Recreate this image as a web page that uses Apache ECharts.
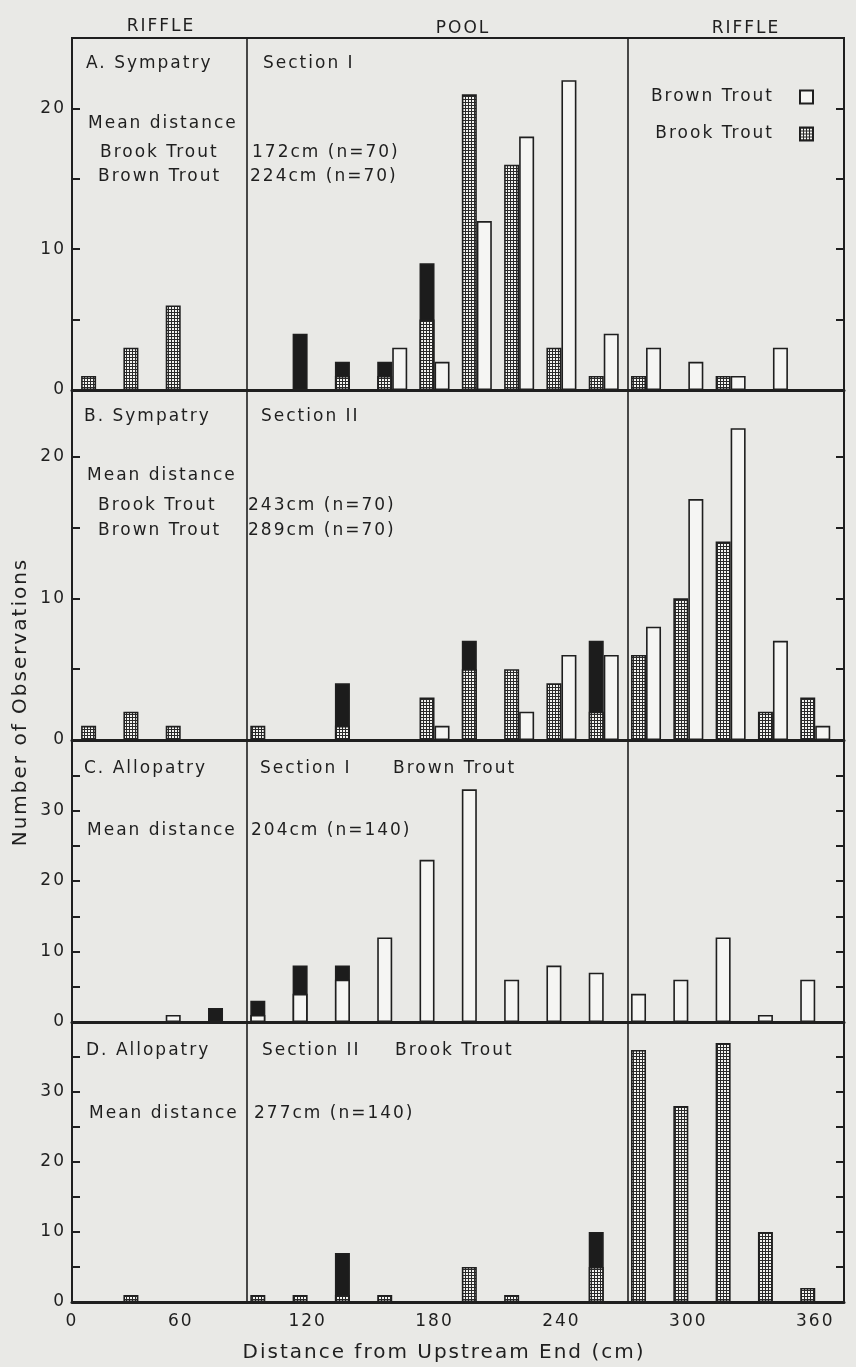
<!DOCTYPE html>
<html>
<head>
<meta charset="utf-8">
<script src="https://cdn.jsdelivr.net/npm/echarts@6/dist/echarts.min.js"></script>
<style>
html,body{margin:0;padding:0;background:#e9e9e6;}
#c{width:856px;height:1367px;}
</style>
</head>
<body>
<div id="c"></div>
<script>
// ---------------- DATA ----------------
const X_MIN = 8.6, X_MAX = 373.6;
const bins = [20,40,60,80,100,120,140,160,180,200,220,240,260,280,300,320,340,360];
const xTickValues = [X_MIN,60,120,180,240,300,360];
const xTickLabels = ['0','60','120','180','240','300','360'];
const sectionBounds = [91.3, 271.4];
const yMaxes = [25, 24.7, 40, 40];

// A. Sympatry, Section I
const aBrook     = [1,3,6,0,0,0,1,1,5,21,16,3,1,1,0,1,0,0];
const aBrookDark = [0,0,0,0,0,4,1,1,4,0,0,0,0,0,0,0,0,0];
const aBrown     = [0,0,0,0,0,0,0,3,2,12,18,22,4,3,2,1,3,0];
// B. Sympatry, Section II
const bBrook     = [1,2,1,0,1,0,1,0,3,5,5,4,2,6,10,14,2,3];
const bBrookDark = [0,0,0,0,0,0,3,0,0,2,0,0,5,0,0,0,0,0];
const bBrown     = [0,0,0,0,0,0,0,0,1,0,2,6,6,8,17,22,7,1];
// C. Allopatry, Section I, Brown Trout
const cBrown     = [0,0,1,0,1,4,6,12,23,33,6,8,7,4,6,12,1,6];
const cBrownDark = [0,0,0,2,2,4,2,0,0,0,0,0,0,0,0,0,0,0];
// D. Allopatry, Section II, Brook Trout
const dBrook     = [0,1,0,0,1,1,1,1,0,5,1,0,5,36,28,37,10,2];
const dBrookDark = [0,0,0,0,0,0,6,0,0,0,0,0,5,0,0,0,0,0];

// ---------------- STYLE ----------------
const FONT = '"DejaVu Sans", "Liberation Sans", sans-serif';
const INK = '#1f1f1f';
const grids = [
  {left:72, right:12, top:38,   height:352},
  {left:72, right:12, top:390,  height:350},
  {left:72, right:12, top:740,  height:282},
  {left:72, right:12, top:1022, height:280}
];

// wide, spaced lettering like the original stencil text
(function(){
  const proto = CanvasRenderingContext2D.prototype;
  const orig = proto.fillText;
  proto.fillText = function(t, x, y, m){
    try { this.letterSpacing = '2px'; } catch(e){}
    return m === undefined ? orig.call(this, t, x, y) : orig.call(this, t, x, y, m);
  };
})();

// stipple pattern for brook trout
const pc = document.createElement('canvas');
pc.width = 3; pc.height = 3;
const pg = pc.getContext('2d');
pg.fillStyle = '#f3f3f0'; pg.fillRect(0,0,3,3);
pg.fillStyle = '#2a2a2a'; pg.fillRect(0,0,3,1); pg.fillRect(0,0,1,3);
const brookFill = {image: pc, repeat: 'repeat'};
const brownFill = '#f5f5f3';
const darkFill = '#1c1c1c';

const BAR_W = 15;
function pairs(arr){ return bins.map((b,i)=>[b, arr[i] === 0 ? '-' : arr[i]]); }
// dark part sits on top of the species part: drawn as the full column behind it
function darkTotals(base, dark){ return bins.map((b,i)=>[b, dark[i] === 0 ? '-' : base[i] + dark[i]]); }

const panels = [
  {left: aBrook, leftName: 'Brook Trout', leftDark: aBrookDark, right: aBrown, rightName: 'Brown Trout'},
  {left: bBrook, leftName: 'Brook Trout', leftDark: bBrookDark, right: bBrown, rightName: 'Brown Trout'},
  {left: cBrown, leftName: 'Brown Trout', leftDark: cBrownDark, right: null},
  {left: dBrook, leftName: 'Brook Trout', leftDark: dBrookDark, right: null}
];

const xAxes = [], yAxes = [], series = [];
grids.forEach((g,i)=>{
  const last = i === grids.length-1;
  xAxes.push({
    type:'value', gridIndex:i, min:X_MIN, max:X_MAX,
    axisLine:{show:true, onZero:false, lineStyle:{color:INK, width:3}},
    axisTick:{show:false}, splitLine:{show:false},
    axisLabel: last ? {
      show:true, customValues: xTickValues, margin:11,
      formatter: v => xTickLabels[xTickValues.indexOf(v)],
      color:INK, fontFamily:FONT, fontSize:17
    } : {show:false}
  });
});
grids.forEach((g,i)=>{
  const mx = yMaxes[i];
  yAxes.push({
    type:'value', gridIndex:i, min:0, max:mx, interval:5, position:'left',
    axisLine:{show:true, lineStyle:{color:INK, width:2}},
    axisTick:{show:true, inside:true, length:8, lineStyle:{color:INK, width:2}},
    splitLine:{show:false},
    axisLabel:{show:true, margin:6, color:INK, fontFamily:FONT, fontSize:17,
      showMaxLabel:false,
      formatter: v => (v % 10 === 0 && v < mx ? String(v) : '')}
  });
});
grids.forEach((g,i)=>{
  yAxes.push({
    type:'value', gridIndex:i, min:0, max:yMaxes[i], interval:5, position:'right',
    axisLine:{show:true, lineStyle:{color:INK, width:2}},
    axisTick:{show:true, inside:true, length:8, lineStyle:{color:INK, width:2}},
    splitLine:{show:false}, axisLabel:{show:false}
  });
});

const colorFor = name => name === 'Brook Trout' ? brookFill : brownFill;
panels.forEach((p,i)=>{
  // section boundaries (riffle | pool | riffle)
  series.push({
    type:'line', name:'sections', xAxisIndex:i, yAxisIndex:i, data:[], silent:true,
    markLine:{silent:true, symbol:['none','none'], label:{show:false},
      lineStyle:{color:INK, width:1.6, type:'solid'},
      data: sectionBounds.map(v=>({xAxis:v}))}
  });
  series.push({
    type:'bar', name:'dark', xAxisIndex:i, yAxisIndex:i, stack:'L'+i,
    barWidth:BAR_W, barGap:'0%', data:darkTotals(p.left, p.leftDark),
    itemStyle:{color:darkFill, borderColor:INK, borderWidth:1.6}
  });
  series.push({
    type:'bar', name:p.leftName, xAxisIndex:i, yAxisIndex:i, stack:'L'+i,
    barWidth:BAR_W, barGap:'0%', data:pairs(p.left),
    itemStyle:{color:colorFor(p.leftName), borderColor:INK, borderWidth:1.6}
  });
  series.push({
    type:'bar', name: p.right ? p.rightName : 'none', xAxisIndex:i, yAxisIndex:i, stack:'R'+i,
    barWidth:BAR_W, barGap:'0%', data: p.right ? pairs(p.right) : [],
    itemStyle:{color:brownFill, borderColor:INK, borderWidth:1.6}
  });
});

// ---------------- TEXT ----------------
function txt(text, x, y, opts){
  opts = opts || {};
  return {type:'text', x:x, y:y, rotation: opts.rotation || 0, silent:true,
    style:{text:text, x:0, y:0, fill:INK,
      font:(opts.weight||'normal')+' '+(opts.size||17)+'px '+FONT,
      align:opts.align||'left', verticalAlign:'middle'}};
}
const texts = [
  txt('RIFFLE', 161, 27, {align:'center', size:17}),
  txt('POOL', 463, 29, {align:'center', size:17}),
  txt('RIFFLE', 746, 29, {align:'center', size:17}),

  txt('A. Sympatry', 86, 64), txt('Section I', 263, 64),
  txt('Mean distance', 88, 124),
  txt('Brook Trout', 100, 153), txt('172cm (n=70)', 252, 153),
  txt('Brown Trout', 98, 177), txt('224cm (n=70)', 250, 177),

  txt('B. Sympatry', 84, 417), txt('Section II', 261, 417),
  txt('Mean distance', 87, 476),
  txt('Brook Trout', 98, 506), txt('243cm (n=70)', 248, 506),
  txt('Brown Trout', 98, 531), txt('289cm (n=70)', 248, 531),

  txt('C. Allopatry', 84, 769), txt('Section I', 260, 769), txt('Brown Trout', 393, 769),
  txt('Mean distance', 87, 831), txt('204cm (n=140)', 251, 831),

  txt('D. Allopatry', 86, 1051), txt('Section II', 262, 1051), txt('Brook Trout', 395, 1051),
  txt('Mean distance', 89, 1114), txt('277cm (n=140)', 254, 1114),

  txt('Number of Observations', 21, 702, {align:'center', rotation:Math.PI/2, size:20}),
  txt('Distance from Upstream End (cm)', 444, 1353, {align:'center', size:20})
];

const dom = document.getElementById('c');
const chart = echarts.init(dom, null, {renderer:'canvas'});

chart.setOption({
  animation:false,
  backgroundColor:'#e9e9e6',
  grid: grids.map(g=>Object.assign({show:true, borderColor:INK, borderWidth:2, backgroundColor:'transparent'}, g)),
  xAxis: xAxes,
  yAxis: yAxes,
  legend:{
    data:['Brown Trout','Brook Trout'], orient:'vertical', right:37, top:82,
    align:'right', icon:'rect', itemWidth:13, itemHeight:13, itemGap:17,
    selectedMode:false,
    textStyle:{color:INK, fontFamily:FONT, fontSize:17, lineHeight:20, padding:[0,21,0,0]}
  },
  series: series,
  graphic: texts
});
</script>
</body>
</html>
